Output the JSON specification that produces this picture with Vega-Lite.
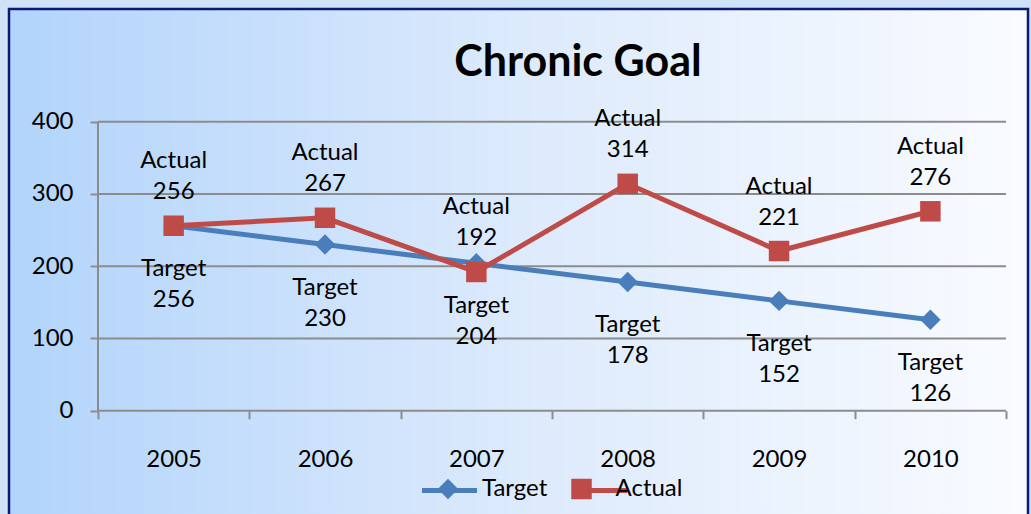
{
  "$schema": "https://vega.github.io/schema/vega-lite/v6.json",
  "width": 1019,
  "height": 511,
  "autosize": {"type": "none"},
  "padding": {"left": 9, "top": 9, "right": 3, "bottom": 0},
  "background": "#cfe2f8",
  "config": {
    "font": "Lato",
    "view": {
      "fill": {"gradient": "linear", "x1": 0, "y1": 0, "x2": 1, "y2": 0,
        "stops": [{"offset": 0, "color": "#b2d4fb"}, {"offset": 0.5, "color": "#dceafc"}, {"offset": 1, "color": "#f9fbff"}]},
      "stroke": "#0b1a72",
      "strokeWidth": 2.5
    }
  },
  "title": {
    "text": "Chronic Goal",
    "font": "Lato",
    "fontSize": 43,
    "fontWeight": "bold",
    "color": "#000000",
    "anchor": "middle",
    "frame": "group",
    "baseline": "alphabetic",
    "offset": -110,
    "dx": 59.5
  },
  "datasets": {
    "series": [
      {"year": 2005, "series": "Target", "value": 256},
      {"year": 2006, "series": "Target", "value": 230},
      {"year": 2007, "series": "Target", "value": 204},
      {"year": 2008, "series": "Target", "value": 178},
      {"year": 2009, "series": "Target", "value": 152},
      {"year": 2010, "series": "Target", "value": 126},
      {"year": 2005, "series": "Actual", "value": 256},
      {"year": 2006, "series": "Actual", "value": 267},
      {"year": 2007, "series": "Actual", "value": 192},
      {"year": 2008, "series": "Actual", "value": 314},
      {"year": 2009, "series": "Actual", "value": 221},
      {"year": 2010, "series": "Actual", "value": 276}
    ],
    "grid": [{"v": 0}, {"v": 100}, {"v": 200}, {"v": 300}, {"v": 400}]
  },
  "resolve": {"axis": {"x": "independent", "y": "independent"}},
  "layer": [
    {
      "data": {"name": "grid"},
      "mark": {"type": "rule", "color": "#8c8c8c", "strokeWidth": 2},
      "encoding": {
        "y": {"field": "v", "type": "quantitative",
          "scale": {"domain": [-151.3, 556.0], "nice": false, "zero": false},
          "axis": {"orient": "left", "values": [0, 100, 200, 300, 400], "offset": -89, "domain": false, "grid": false,
            "ticks": true, "tickSize": 8, "tickColor": "#8c8c8c", "tickWidth": 2,
            "labelFontSize": 24, "labelColor": "#000000", "labelPadding": 17, "labelFont": "Lato", "title": null}},
        "x": {"datum": 2004.5, "type": "quantitative",
          "scale": {"domain": [2003.912, 2010.645], "nice": false, "zero": false},
          "axis": {"orient": "bottom", "values": [2004.5, 2005.5, 2006.5, 2007.5, 2008.5, 2009.5, 2010.5], "offset": -109.3,
            "domain": false, "grid": false, "labels": false, "ticks": true, "tickSize": 8,
            "tickColor": "#8c8c8c", "tickWidth": 2, "title": null}},
        "x2": {"datum": 2010.5}
      }
    },
    {
      "data": {"name": "grid"},
      "mark": {"type": "rule", "color": "#8c8c8c", "strokeWidth": 2},
      "encoding": {
        "x": {"datum": 2004.5, "type": "quantitative",
          "scale": {"domain": [2003.912, 2010.645], "nice": false, "zero": false}, "axis": null},
        "y": {"aggregate": "min", "field": "v", "type": "quantitative",
          "scale": {"domain": [-151.3, 556.0], "nice": false, "zero": false}, "axis": null},
        "y2": {"aggregate": "max", "field": "v"}
      }
    },
    {
      "data": {"name": "series"},
      "transform": [{"filter": "datum.series === 'Target'"}],
      "mark": {"type": "line", "strokeWidth": 5},
      "encoding": {
        "x": {"field": "year", "type": "quantitative",
          "scale": {"domain": [2003.912, 2010.645], "nice": false, "zero": false},
          "axis": {"orient": "bottom", "values": [2005, 2006, 2007, 2008, 2009, 2010], "format": "d", "offset": -109.3,
            "domain": false, "grid": false, "ticks": false, "labelFontSize": 24, "labelColor": "#000000",
            "labelPadding": 37, "labelFont": "Lato", "title": null}},
        "y": {"field": "value", "type": "quantitative",
          "scale": {"domain": [-151.3, 556.0], "nice": false, "zero": false}, "axis": null},
        "stroke": {"field": "series", "type": "nominal",
          "scale": {"domain": ["Target", "Actual", " "], "range": ["#4a7ebb", "#be4b48", "#888888"]},
          "legend": {
            "orient": "none", "legendX": 410.5, "legendY": 451.5, "direction": "horizontal", "title": null,
            "values": ["Target", "Actual"], "symbolType": "stroke",
            "labelFontSize": 0.1, "labelColor": "#000000", "labelFont": "Lato", "labelOpacity": 0,
            "symbolSize": 3025, "symbolStrokeWidth": 5, "labelOffset": 81.5, "columnPadding": 0
          }}
      }
    },
    {
      "data": {"name": "series"},
      "transform": [{"filter": "datum.series === 'Actual'"}],
      "mark": {"type": "line", "strokeWidth": 5},
      "encoding": {
        "x": {"field": "year", "type": "quantitative",
          "scale": {"domain": [2003.912, 2010.645], "nice": false, "zero": false}, "axis": null},
        "y": {"field": "value", "type": "quantitative",
          "scale": {"domain": [-151.3, 556.0], "nice": false, "zero": false}, "axis": null},
        "stroke": {"field": "series", "type": "nominal",
          "scale": {"domain": ["Target", "Actual", " "], "range": ["#4a7ebb", "#be4b48", "#888888"]},
          "legend": {
            "orient": "none", "legendX": 410.5, "legendY": 451.5, "direction": "horizontal", "title": null,
            "values": ["Target", "Actual"], "symbolType": "stroke",
            "labelFontSize": 0.1, "labelColor": "#000000", "labelFont": "Lato", "labelOpacity": 0,
            "symbolSize": 3025, "symbolStrokeWidth": 5, "labelOffset": 81.5, "columnPadding": 0
          }}
      }
    },
    {
      "data": {"name": "series"},
      "mark": {"type": "point", "filled": true, "opacity": 1, "size": 420, "strokeWidth": 0},
      "encoding": {
        "x": {"field": "year", "type": "quantitative",
          "scale": {"domain": [2003.912, 2010.645], "nice": false, "zero": false}, "axis": null},
        "y": {"field": "value", "type": "quantitative",
          "scale": {"domain": [-151.3, 556.0], "nice": false, "zero": false}, "axis": null},
        "color": {"field": "series", "type": "nominal",
          "scale": {"domain": ["Target", "Actual"], "range": ["#4a7ebb", "#be4b48"]},
          "legend": {
            "orient": "none", "legendX": 427, "legendY": 468, "direction": "horizontal", "title": null,
            "labelFontSize": 24, "labelColor": "#000000", "labelFont": "Lato",
            "symbolSize": 420, "symbolStrokeWidth": 0, "labelOffset": 22, "columnPadding": 21.5
          }},
        "shape": {"field": "series", "type": "nominal",
          "scale": {"domain": ["Target", "Actual"], "range": ["diamond", "square"]},
          "legend": {
            "orient": "none", "legendX": 427, "legendY": 468, "direction": "horizontal", "title": null,
            "labelFontSize": 24, "labelColor": "#000000", "labelFont": "Lato",
            "symbolSize": 420, "symbolStrokeWidth": 0, "labelOffset": 22, "columnPadding": 21.5
          }}
      }
    },
    {
      "data": {"name": "series"},
      "transform": [
        {"filter": "datum.series === 'Actual'"},
        {"calculate": "datum.series + '\\n' + datum.value", "as": "label"}
      ],
      "mark": {"type": "text", "fontSize": 24, "font": "Lato", "color": "#000000", "baseline": "middle",
        "align": "center", "lineBreak": "\n", "lineHeight": 31, "dy": -64.5},
      "encoding": {
        "x": {"field": "year", "type": "quantitative",
          "scale": {"domain": [2003.912, 2010.645], "nice": false, "zero": false}, "axis": null},
        "y": {"field": "value", "type": "quantitative",
          "scale": {"domain": [-151.3, 556.0], "nice": false, "zero": false}, "axis": null},
        "text": {"field": "label", "type": "nominal"}
      }
    },
    {
      "data": {"name": "series"},
      "transform": [
        {"filter": "datum.series === 'Target'"},
        {"calculate": "datum.series + '\\n' + datum.value", "as": "label"}
      ],
      "mark": {"type": "text", "fontSize": 24, "font": "Lato", "color": "#000000", "baseline": "middle",
        "align": "center", "lineBreak": "\n", "lineHeight": 31, "dy": 43},
      "encoding": {
        "x": {"field": "year", "type": "quantitative",
          "scale": {"domain": [2003.912, 2010.645], "nice": false, "zero": false}, "axis": null},
        "y": {"field": "value", "type": "quantitative",
          "scale": {"domain": [-151.3, 556.0], "nice": false, "zero": false}, "axis": null},
        "text": {"field": "label", "type": "nominal"}
      }
    }
  ]
}
